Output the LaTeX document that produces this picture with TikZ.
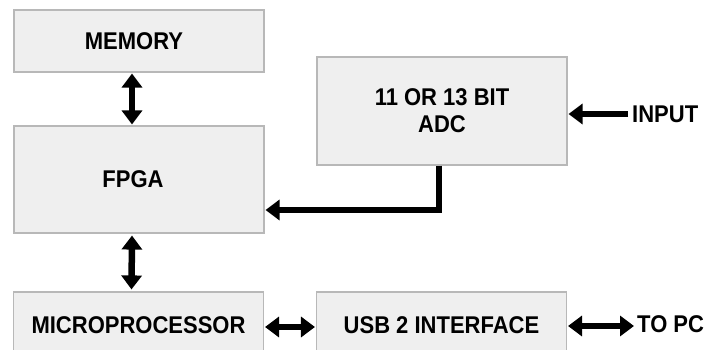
\documentclass[tikz,border=0pt]{standalone}
\usepackage{fontspec}
\setmainfont{Liberation Sans}
\usetikzlibrary{arrows.meta,calc}
\definecolor{boxfill}{HTML}{EFEFEF}
\definecolor{boxline}{HTML}{B8B8B8}
\newcommand{\tall}[1]{\scalebox{1}[1.1]{#1}}
\begin{document}
\begin{tikzpicture}[x=1pt,y=-1pt,
  blk/.style={draw=boxline,line width=1.1pt,fill=boxfill,minimum width=250pt,inner sep=0pt,align=center,font=\fontsize{22}{27}\selectfont\bfseries},
  lbl/.style={inner sep=0pt,anchor=west,font=\fontsize{22}{27}\selectfont\bfseries},
  conn/.style={line width=6.5pt,line join=miter,-{Triangle[width=20pt,length=14pt]}},
  dconn/.style={line width=6.5pt,{Triangle[width=20pt,length=14pt]}-{Triangle[width=20pt,length=14pt]}}]
\useasboundingbox (0,0) rectangle (707,350);
\clip (0,0) rectangle (707,350);
\node[blk,minimum height=62pt] (mem) at (139,41) {\tall{MEMORY}\hspace*{10pt}};
\node[blk,minimum height=107pt] (fpga) at (139,179.5) {\tall{FPGA}\hspace*{12pt}};
\node[blk,minimum height=108pt] (adc) at (442,111) {\tall{11 OR 13 BIT}\\\tall{ADC}};
\node[blk,minimum height=66pt] (mp) at (138.5,325) {\tall{MICROPROCESSOR}};
\node[blk,minimum height=66pt] (usb) at (441.5,325) {\tall{USB 2 INTERFACE}};
\node[lbl] (in) at (632,114) {\tall{INPUT}};
\node[lbl] (pc) at (637,324) {\tall{TO PC}};
\coordinate (bend) at (439,210);
\draw[dconn] ([xshift=-7pt,yshift=-1pt]mem.south) -- ([xshift=-7pt,yshift=1pt]fpga.north);
\draw[dconn] ([xshift=-7pt,yshift=-2pt]fpga.south) -- ([xshift=-7pt,yshift=2pt]mp.north);
\draw[dconn] ([xshift=1pt,yshift=-2pt]mp.east) -- ([xshift=-1pt,yshift=-2pt]usb.west);
\draw[dconn] ([xshift=1pt,yshift=-1pt]usb.east) -- ([xshift=-3pt,yshift=-1pt]pc.west |- usb.east);
\draw[conn] ([xshift=-4pt]in.west) -- ([xshift=1pt]in.west -| adc.east);
\draw[conn] (adc.south -| bend) -- (bend) -- ([xshift=1pt]fpga.east |- bend);
\end{tikzpicture}
\end{document}
